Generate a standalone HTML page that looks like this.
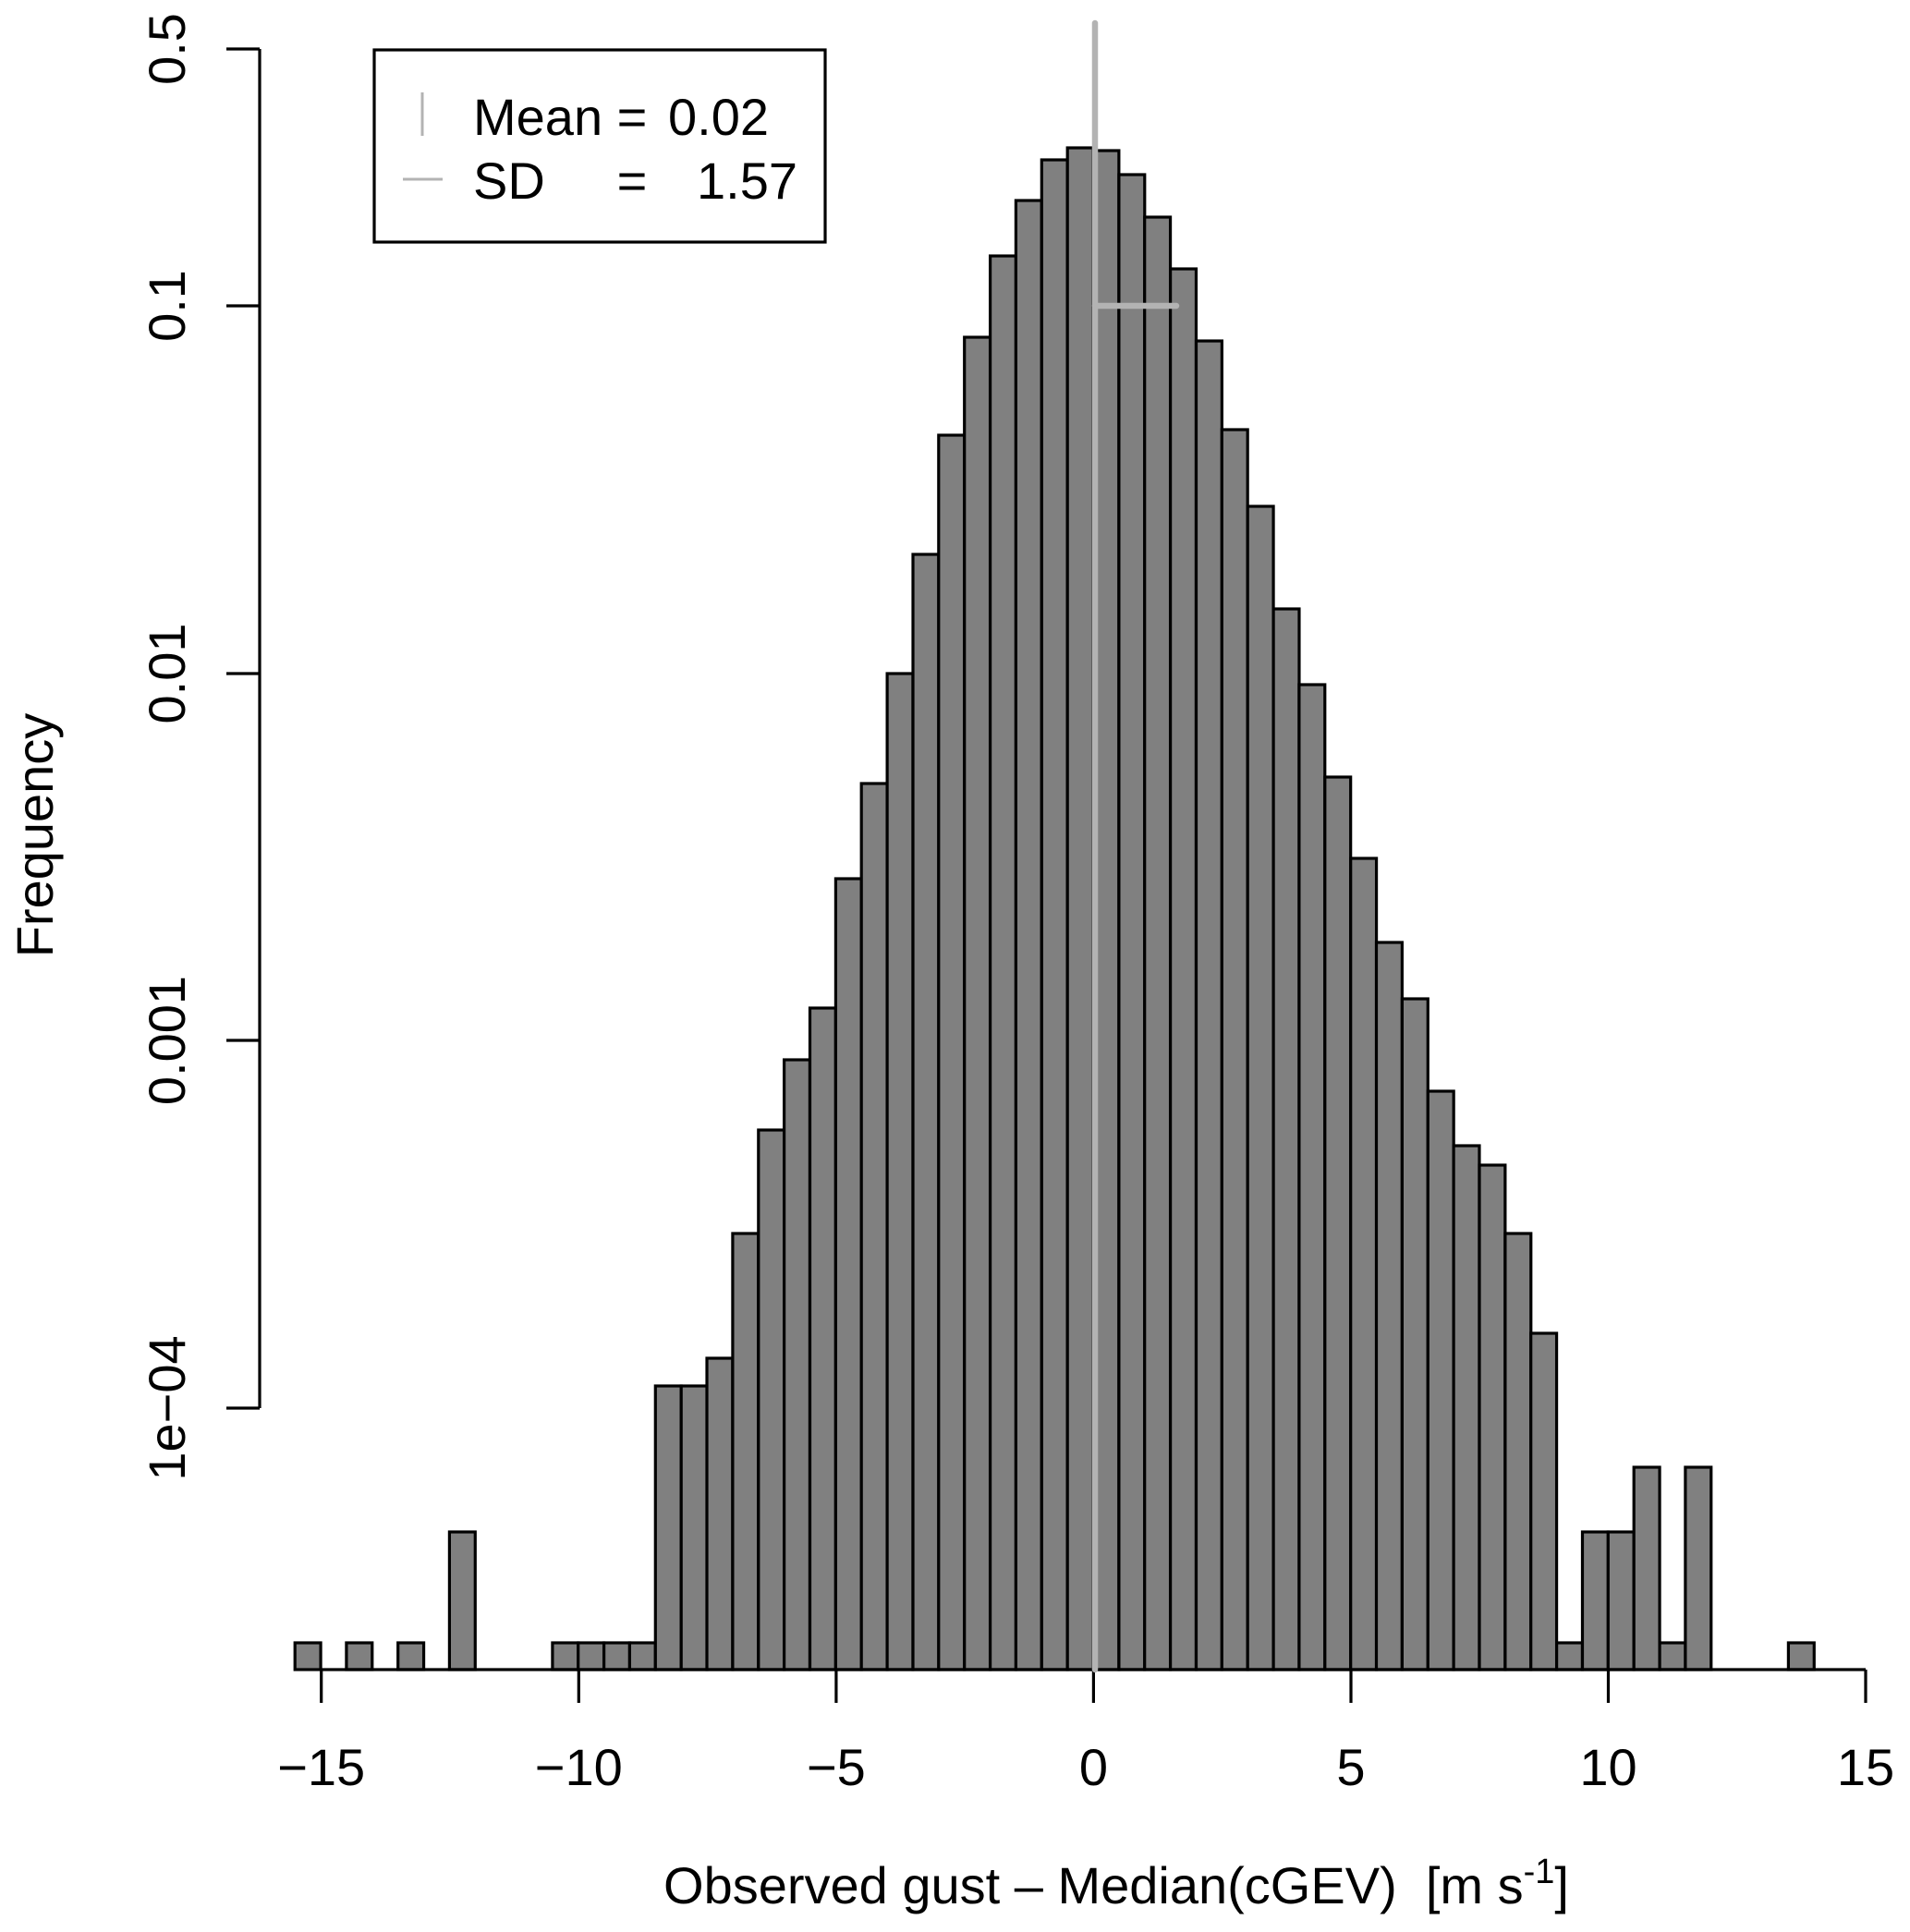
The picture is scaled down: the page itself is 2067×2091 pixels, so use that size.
<!DOCTYPE html>
<html><head><meta charset="utf-8"><style>html,body{margin:0;padding:0;background:#fff}svg{display:block}</style></head>
<body>
<svg width="2067" height="2091" viewBox="0 0 2067 2091" xmlns="http://www.w3.org/2000/svg" font-family="Liberation Sans, Arial, sans-serif">
<rect width="2067" height="2091" fill="#fff"/>
<g fill="#808080" stroke="#000" stroke-width="3.2">
<rect x="319.2" y="1778" width="27.87" height="29"/>
<rect x="374.9" y="1778" width="27.87" height="29"/>
<rect x="430.7" y="1778" width="27.87" height="29"/>
<rect x="486.4" y="1658" width="27.87" height="149"/>
<rect x="597.9" y="1778" width="27.87" height="29"/>
<rect x="625.7" y="1778" width="27.87" height="29"/>
<rect x="653.6" y="1778" width="27.87" height="29"/>
<rect x="681.4" y="1778" width="27.87" height="29"/>
<rect x="709.3" y="1500" width="27.87" height="307"/>
<rect x="737.2" y="1500" width="27.87" height="307"/>
<rect x="765.0" y="1470" width="27.87" height="337"/>
<rect x="792.9" y="1335" width="27.87" height="472"/>
<rect x="820.8" y="1223" width="27.87" height="584"/>
<rect x="848.6" y="1147" width="27.87" height="660"/>
<rect x="876.5" y="1091" width="27.87" height="716"/>
<rect x="904.4" y="951" width="27.87" height="856"/>
<rect x="932.2" y="848" width="27.87" height="959"/>
<rect x="960.1" y="729" width="27.87" height="1078"/>
<rect x="988.0" y="600" width="27.87" height="1207"/>
<rect x="1015.8" y="471" width="27.87" height="1336"/>
<rect x="1043.7" y="365" width="27.87" height="1442"/>
<rect x="1071.6" y="277" width="27.87" height="1530"/>
<rect x="1099.4" y="217" width="27.87" height="1590"/>
<rect x="1127.3" y="173" width="27.87" height="1634"/>
<rect x="1155.2" y="160" width="27.87" height="1647"/>
<rect x="1183.0" y="163" width="27.87" height="1644"/>
<rect x="1210.9" y="189" width="27.87" height="1618"/>
<rect x="1238.7" y="235" width="27.87" height="1572"/>
<rect x="1266.6" y="291" width="27.87" height="1516"/>
<rect x="1294.5" y="369" width="27.87" height="1438"/>
<rect x="1322.3" y="465" width="27.87" height="1342"/>
<rect x="1350.2" y="548" width="27.87" height="1259"/>
<rect x="1378.1" y="659" width="27.87" height="1148"/>
<rect x="1405.9" y="741" width="27.87" height="1066"/>
<rect x="1433.8" y="841" width="27.87" height="966"/>
<rect x="1461.7" y="929" width="27.87" height="878"/>
<rect x="1489.5" y="1020" width="27.87" height="787"/>
<rect x="1517.4" y="1081" width="27.87" height="726"/>
<rect x="1545.3" y="1181" width="27.87" height="626"/>
<rect x="1573.1" y="1240" width="27.87" height="567"/>
<rect x="1601.0" y="1261" width="27.87" height="546"/>
<rect x="1628.9" y="1335" width="27.87" height="472"/>
<rect x="1656.7" y="1443" width="27.87" height="364"/>
<rect x="1684.6" y="1778" width="27.87" height="29"/>
<rect x="1712.5" y="1658" width="27.87" height="149"/>
<rect x="1740.3" y="1658" width="27.87" height="149"/>
<rect x="1768.2" y="1588" width="27.87" height="219"/>
<rect x="1796.1" y="1778" width="27.87" height="29"/>
<rect x="1823.9" y="1588" width="27.87" height="219"/>
<rect x="1935.4" y="1778" width="27.87" height="29"/>
</g>
<g stroke="#000" stroke-width="3.2" fill="none">
<line x1="347.7" y1="1807" x2="2019" y2="1807"/>
<line x1="347.7" y1="1807" x2="347.7" y2="1843"/>
<line x1="626.3" y1="1807" x2="626.3" y2="1843"/>
<line x1="904.9" y1="1807" x2="904.9" y2="1843"/>
<line x1="1183.4" y1="1807" x2="1183.4" y2="1843"/>
<line x1="1462" y1="1807" x2="1462" y2="1843"/>
<line x1="1740.5" y1="1807" x2="1740.5" y2="1843"/>
<line x1="2019" y1="1807" x2="2019" y2="1843"/>
<line x1="281" y1="53" x2="281" y2="1524"/>
<line x1="245" y1="53" x2="281" y2="53"/>
<line x1="245" y1="331" x2="281" y2="331"/>
<line x1="245" y1="729" x2="281" y2="729"/>
<line x1="245" y1="1126" x2="281" y2="1126"/>
<line x1="245" y1="1524" x2="281" y2="1524"/>
<rect x="405" y="54" width="488" height="208"/>
</g>
<g stroke="#b3b3b3" stroke-width="6.5" stroke-linecap="round">
<line x1="1185" y1="25" x2="1185" y2="1807"/>
<line x1="1185" y1="331" x2="1273" y2="331"/>
</g>
<g stroke="#b3b3b3" stroke-width="3">
<line x1="457" y1="100" x2="457" y2="147"/>
<line x1="436" y1="194" x2="479" y2="194"/>
</g>
<g font-size="56" fill="#000" text-anchor="middle">
<text x="347.7" y="1932">−15</text>
<text x="626.3" y="1932">−10</text>
<text x="904.9" y="1932">−5</text>
<text x="1183.4" y="1932">0</text>
<text x="1462" y="1932">5</text>
<text x="1740.5" y="1932">10</text>
<text x="2019" y="1932">15</text>
<text transform="translate(200,53) rotate(-90)">0.5</text>
<text transform="translate(200,331) rotate(-90)">0.1</text>
<text transform="translate(200,729) rotate(-90)">0.01</text>
<text transform="translate(200,1126) rotate(-90)">0.001</text>
<text transform="translate(200,1524) rotate(-90)">1e−04</text>
<text transform="translate(57,904) rotate(-90)">Frequency</text>
<text x="1208" y="2060">Observed gust – Median(cGEV)&#160;&#160;[m s<tspan font-size="38" dy="-22">-1</tspan><tspan dy="22">]</tspan></text>
</g>
<g font-size="56" fill="#000">
<text x="512" y="146">Mean</text>
<text x="684" y="146" text-anchor="middle">=</text>
<text x="832" y="146" text-anchor="end">0.02</text>
<text x="512" y="215">SD</text>
<text x="684" y="215" text-anchor="middle">=</text>
<text x="863" y="215" text-anchor="end">1.57</text>
</g>
</svg>
</body></html>
